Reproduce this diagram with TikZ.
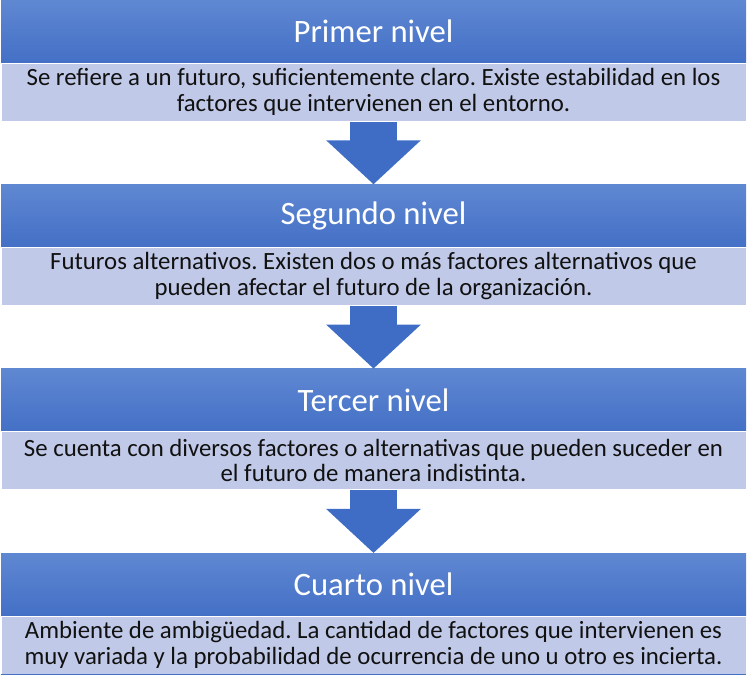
\documentclass[tikz,border=0pt]{standalone}
\usepackage{fontspec}
\setmainfont{Carlito}
\usepackage{xcolor}
\usepackage{tikz}
\usetikzlibrary{arrows.meta,positioning}
\definecolor{hdtop}{HTML}{5F88D2}
\definecolor{hdbot}{HTML}{4470C6}
\definecolor{txfill}{HTML}{C0C9E7}
\definecolor{arblue}{HTML}{3F6DC6}
\definecolor{ink}{HTML}{111111}
\frenchspacing

\begin{document}
\begin{tikzpicture}[
    x=0.75pt,y=0.75pt,
    node distance=47.25pt,
    level/.style={rectangle,inner sep=0pt,minimum width=558.75pt,minimum height=46.5pt,
      top color=hdtop,bottom color=hdbot,draw=none,text=white,
      font=\fontsize{24.5}{28}\selectfont},
    desc/.style={rectangle,inner sep=0pt,minimum width=558.75pt,minimum height=43.5pt,
      fill=txfill,draw=white,line width=0.6pt,align=center,text=ink,
      font=\fontsize{18.6}{19.2}\selectfont},
    down/.style={line width=35pt,color=arblue,-{Triangle[length=33pt,width=69pt]},shorten <=0.3pt}
  ]
    \useasboundingbox (0,0) rectangle (747,685);
    \node[level,anchor=north] (lv1) at (373.5,685) {Primer nivel};
    \node[desc,below=0pt of lv1] (ds1) {Se refiere a un futuro, suficientemente claro. Existe estabilidad en los\\factores que intervienen en el entorno.};
    \node[level,below=of ds1] (lv2) {Segundo nivel};
    \node[desc,below=0pt of lv2] (ds2) {Futuros alternativos. Existen dos o más factores alternativos que\\pueden afectar el futuro de la organización.};
    \node[level,below=of ds2] (lv3) {Tercer nivel};
    \node[desc,below=0pt of lv3] (ds3) {Se cuenta con diversos factores o alternativas que pueden suceder en\\el futuro de manera indistinta.};
    \node[level,below=of ds3] (lv4) {Cuarto nivel};
    \node[desc,below=0pt of lv4] (ds4) {Ambiente de ambigüedad. La cantidad de factores que intervienen es\\muy variada y la probabilidad de ocurrencia de uno u otro es incierta.};
    \draw[down] (ds1.south) -- (lv2.north);
    \draw[down] (ds2.south) -- (lv3.north);
    \draw[down] (ds3.south) -- (lv4.north);
    \draw[hdbot,line width=1pt] (ds4.south west) -- (ds4.south east);
  \end{tikzpicture}
\end{document}
